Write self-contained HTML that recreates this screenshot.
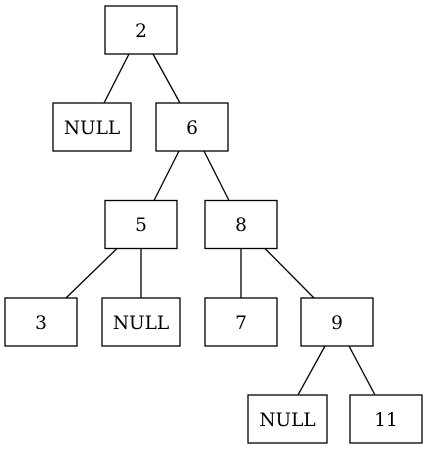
<!DOCTYPE html>
<html><head><style>
html,body{margin:0;padding:0;background:#fff;}
</style></head><body>
<svg width="428" height="449" viewBox="0 0 428 449" xmlns="http://www.w3.org/2000/svg" font-family="'DejaVu Serif','Liberation Serif',serif" font-size="18.5">
<g fill="none" stroke="#000" stroke-width="1.3">
<rect x="105" y="6" width="72" height="48"/>
<rect x="53" y="103" width="78" height="48"/>
<rect x="156" y="103" width="72" height="48"/>
<rect x="105" y="200.5" width="72" height="48"/>
<rect x="205" y="200.5" width="72" height="48"/>
<rect x="5" y="298" width="72" height="48"/>
<rect x="102" y="298" width="78" height="48"/>
<rect x="205" y="298" width="72" height="48"/>
<rect x="301" y="298" width="72" height="48"/>
<rect x="248" y="395" width="79" height="48"/>
<rect x="350" y="395" width="72" height="48"/>
<line x1="129" y1="54" x2="104" y2="103"/>
<line x1="153" y1="54" x2="180" y2="103"/>
<line x1="179" y1="151" x2="154" y2="200.5"/>
<line x1="204" y1="151" x2="229" y2="200.5"/>
<line x1="117" y1="248.5" x2="66" y2="298"/>
<line x1="141" y1="248.5" x2="141" y2="298"/>
<line x1="241" y1="248.5" x2="241" y2="298"/>
<line x1="265" y1="248.5" x2="314" y2="298"/>
<line x1="325" y1="346" x2="298" y2="395"/>
<line x1="349" y1="346" x2="375" y2="395"/>
</g>
<g fill="#000" text-anchor="middle">
<text x="141" y="37">2</text>
<text x="92" y="134">NULL</text>
<text x="192" y="134">6</text>
<text x="141" y="231">5</text>
<text x="241" y="231">8</text>
<text x="41" y="329">3</text>
<text x="141" y="329">NULL</text>
<text x="241" y="329">7</text>
<text x="337" y="329">9</text>
<text x="287.5" y="426">NULL</text>
<text x="386" y="426">11</text>
</g>
</svg>
</body></html>
